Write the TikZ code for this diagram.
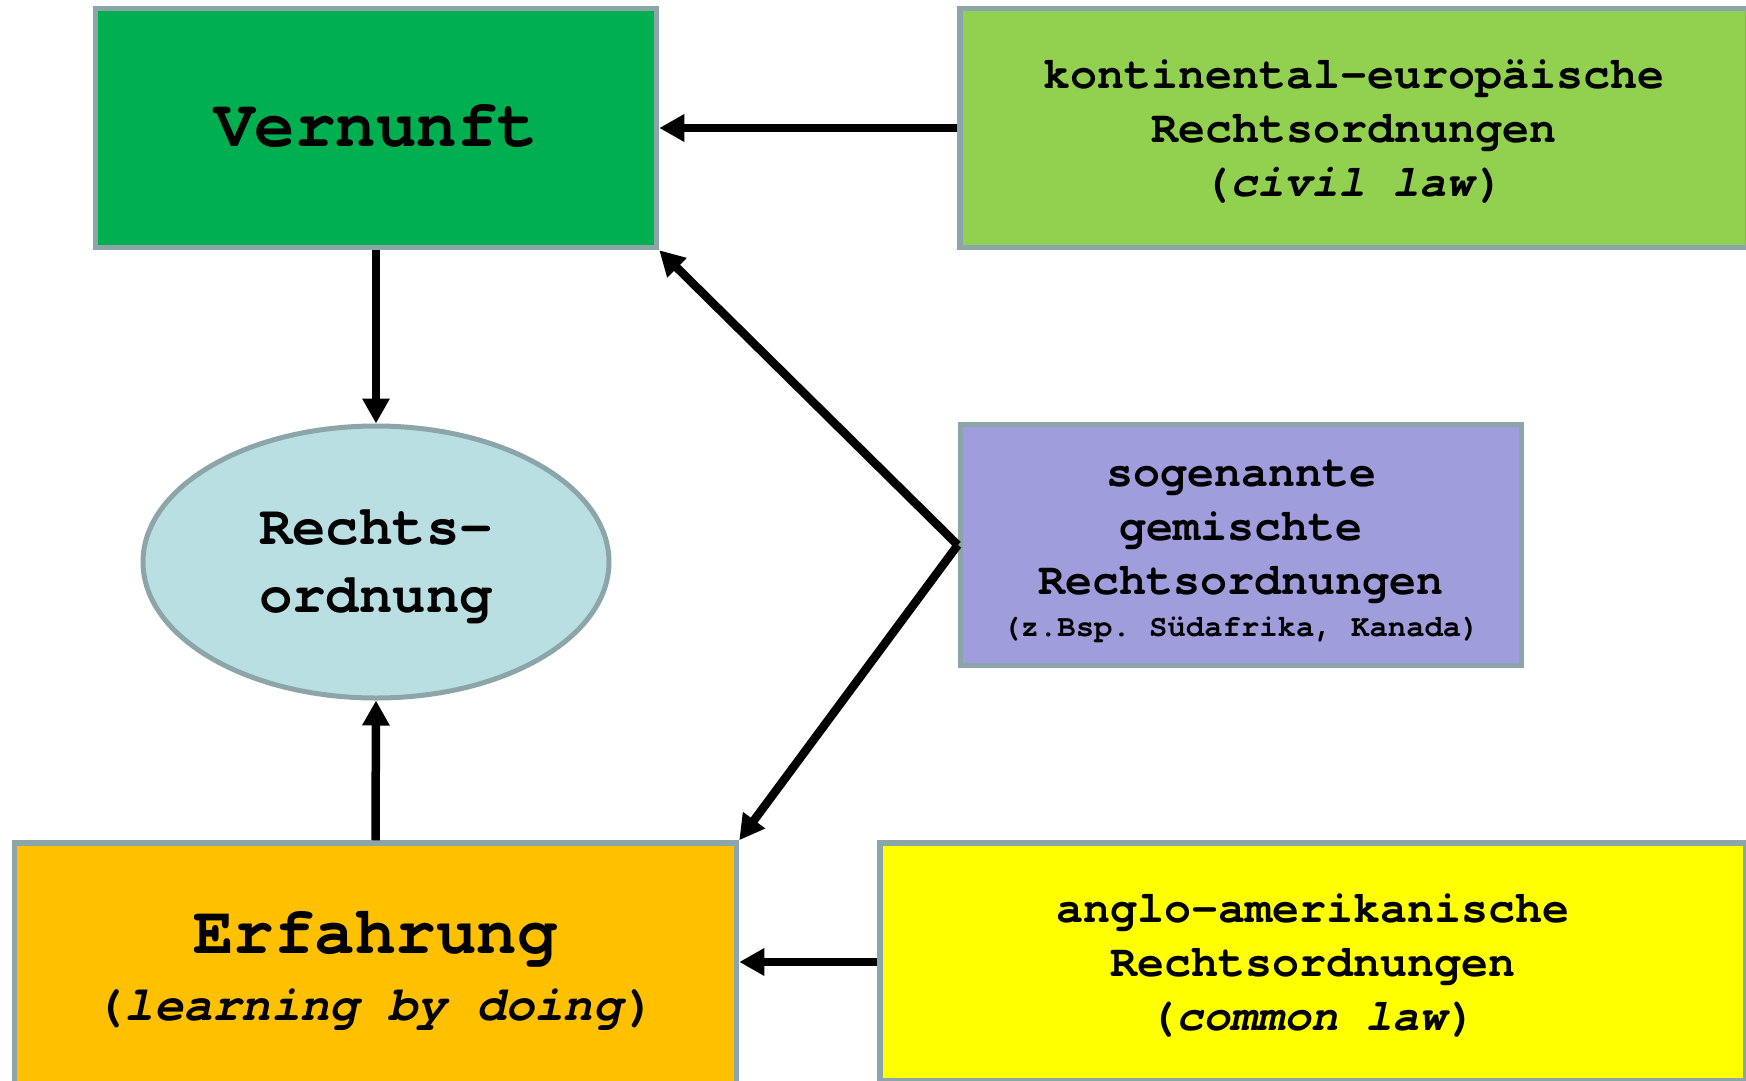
\documentclass[tikz,border=0pt]{standalone}
\usepackage{fontspec}
\setmonofont{texgyrecursor}[Extension=.otf, UprightFont=*-regular, BoldFont=*-bold, ItalicFont=*-italic, BoldItalicFont=*-bolditalic]
\usetikzlibrary{shapes.geometric,arrows.meta}
\definecolor{bordergray}{HTML}{8CA5A8}
\definecolor{vgreen}{HTML}{00B050}
\definecolor{kgreen}{HTML}{92D050}
\definecolor{slav}{HTML}{9F9DDC}
\definecolor{rblue}{HTML}{BADFE2}
\definecolor{eorange}{HTML}{FFC000}
\definecolor{ayellow}{HTML}{FFFF00}
\tikzset{
  box/.style={rectangle, draw=bordergray, line width=5.5pt, inner sep=0pt},
  oval/.style={ellipse, draw=bordergray, line width=5pt, inner sep=0pt},
  txt/.style={align=center, inner sep=0pt},
  arr/.style={line width=8.5pt, -{Triangle[length=25pt,width=26pt]}},
}
\begin{document}
\begin{tikzpicture}[x=1pt,y=-1pt]
\clip (0,0) rectangle (1746,1081);
\fill[white] (0,0) rectangle (1746,1081);
% shapes
\node[box, fill=vgreen, minimum width=561pt, minimum height=239pt] (V) at (376,128) {};
\node[box, fill=kgreen, minimum width=788pt, minimum height=239pt] (K) at (1354,128) {};
\node[oval, fill=rblue, minimum width=466pt, minimum height=272pt] (R) at (376,562) {};
\node[box, fill=slav, minimum width=561pt, minimum height=241pt] (S) at (1241,545) {};
\node[box, fill=eorange, minimum width=722pt, minimum height=260pt] (E) at (375.5,973) {};
\node[box, fill=ayellow, minimum width=866pt, minimum height=238pt] (A) at (1313,962) {};
% texts
\node[txt, font=\ttfamily\bfseries\fontsize{67.5pt}{72pt}\selectfont] (Vt) at (376,126) {Vernunft};
\node[txt, font=\ttfamily\bfseries\fontsize{45pt}{54pt}\selectfont] (Kt) at (1354,131.7)
  {kontinental-europäische\\Rechtsordnungen\\(\textit{civil law})};
\node[txt, font=\ttfamily\bfseries\fontsize{55.7pt}{68pt}\selectfont] (Rt) at (376,567)
  {Rechts-\\ordnung};
\node[txt, font=\ttfamily\bfseries\fontsize{45pt}{54pt}\selectfont] (St) at (1241,551.7)
  {sogenannte\\gemischte\\Rechtsordnungen\\[-12pt]{\fontsize{30.6pt}{36pt}\selectfont (z.Bsp. Südafrika, Kanada)}};
\node[txt, font=\ttfamily\bfseries\fontsize{67.5pt}{66.5pt}\selectfont] (Et) at (375.5,970.8)
  {Erfahrung\\{\fontsize{48.8pt}{58pt}\selectfont (\textit{learning by doing})}};
\node[txt, font=\ttfamily\bfseries\fontsize{45pt}{54pt}\selectfont] (At) at (1313,965.3)
  {anglo-amerikanische\\Rechtsordnungen\\(\textit{common law})};
% connectors
\coordinate (Sj) at (S.west);
\draw[arr] (K.west) -- (V.east);
\draw[arr] (V.south) -- (R.north);
\draw[arr] (E.north) -- (R.south);
\draw[arr] (A.west) -- (A.west -| E.east);
\draw[arr] (Sj) -- (V.south east);
\draw[arr] (Sj) -- (E.north east);
\end{tikzpicture}
\end{document}
